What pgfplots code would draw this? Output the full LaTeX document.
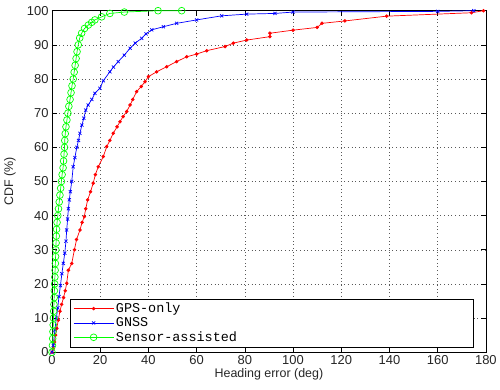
\documentclass[border=0pt]{standalone}
\usepackage{fontspec}
\setmainfont{Liberation Sans}
\newfontfamily\monofont{Liberation Mono}
\usepackage{pgfplots}
\pgfplotsset{compat=1.18}
\begin{document}
\begin{tikzpicture}
\begin{axis}[
  scale only axis,
  width=434bp, height=341.6bp,
  xmin=0, xmax=180, ymin=0, ymax=100,
  xtick={0,20,...,180}, ytick={0,10,...,100},
  tick align=inside, major tick length=5bp,
  grid=major,
  major grid style={black!65, line width=0.5bp, dash pattern=on 0.7bp off 3bp},
  axis line style={line width=0.6bp},
  every tick/.style={black, line width=0.6bp},
  /pgf/number format/assume math mode=true,
  tick label style={font=\fontsize{13}{15}\selectfont, text=black!85},
  label style={font=\fontsize{12.5}{15}\selectfont, text=black!85},
  xlabel={Heading error (deg)},
  ylabel={CDF (\%)},
  xlabel style={at={(axis description cs:0.5,-0.066)}, anchor=center},
  ylabel style={at={(axis description cs:-0.097,0.5)}, anchor=center},
  legend cell align=left,
  legend style={at={(rel axis cs:0.0415,0.0147)}, anchor=south west,
    font=\fontsize{13.5}{16}\monofont, draw=black, line width=0.6bp,
    inner xsep=3bp, inner ysep=2bp, row sep=-0.5bp,
    nodes={inner xsep=2bp}},
  legend image code/.code={\draw[mark repeat=2,mark phase=2] plot coordinates {(0cm,0cm) (0.705cm,0cm) (1.41cm,0cm)};},
  clip=false,
]
\addplot[red, line width=0.7bp, mark=*, mark size=1.4pt] coordinates {
(0,0) (0.5,1) (1,3) (1.5,5) (2,7) (2.6,9.4) (3.3,12) (4,14) (4.8,16) (5.5,18)
(6.1,20.2) (6.8,24) (8.2,26) (9.3,30) (10.2,33) (11.6,35.8) (12.5,38) (13.4,39.7)
(14,42) (14.8,44.6) (16,47) (17.1,49.5) (18,52) (19.2,54.3) (21.3,57.3) (22.7,60.2)
(24,62) (25.4,64.1) (27,66) (28.2,67.5) (29.5,69) (31,70.5) (32.4,72.4) (33.5,74)
(35.1,76.3) (37,77.8) (38.6,79.2) (40,80.7) (43.4,82.1) (47.6,83.6) (51.7,85.1)
(55.9,86.5) (60,87.3) (64.2,88.3) (71.8,89.5) (75.2,90.5) (80.8,91.4) (90.4,92.4)
(90.4,93.4) (100,94.3) (110,95.1) (112,96.3) (121.5,97) (138.8,98.4) (174,99.4) (179,100)
};
\addlegendentry{\makebox[352bp][l]{GPS-only}}
\addplot[blue, line width=0.7bp, mark=x, mark size=2.2pt] coordinates {
(0,0) (0.5,2) (1.2,6.5) (1.8,10) (2.4,13) (2.9,16.3) (3.5,19.5) (4.1,23) (4.7,26)
(5.3,29) (5.8,32.5) (6.1,35.8) (6.5,39) (6.8,42) (7.2,44.6) (7.6,47) (8.2,50)
(8.8,54.3) (9.5,57) (10.3,60) (11,62) (11.6,64.1) (12.4,66.5) (13.2,68.5) (14,70.9)
(15,72.4) (16.5,74) (17.8,75.8) (19.9,77.3) (21.3,79.5) (24,82.1) (25.5,83.5)
(27.5,85.1) (30,87) (32.4,89) (34.5,90.5) (37.2,91.9) (39,93.2) (41.4,94.4)
(46.2,95.3) (51.7,96.3) (60,97.3) (70.4,98.5) (80.8,99) (92.5,99.2) (100,99.6)
(160,99.8) (175,100)
};
\addlegendentry{GNSS}
\addplot[green, line width=0.7bp, mark=o, mark size=3.4pt] coordinates {
(0,0) (0.2,2) (0.3,4) (0.4,6) (0.5,8) (0.6,10) (0.7,12) (0.8,14) (0.9,16) (1.0,18)
(1.1,20) (1.2,22) (1.3,24) (1.4,26) (1.5,28) (1.6,30) (1.7,32) (1.8,34) (1.9,36)
(2.1,38) (2.4,40) (2.7,42) (3.0,44) (3.3,46) (3.6,48) (3.9,50) (4.2,52) (4.6,54)
(4.8,56) (5.0,58) (5.2,60) (5.3,62) (5.5,64) (5.8,66) (6.2,68) (6.6,70) (7.0,72)
(7.5,74) (7.9,76) (8.3,78) (8.8,80) (9.2,82) (9.6,84) (10.0,86) (10.4,88) (10.9,90)
(11.5,92) (12.3,93.4) (13.5,94.8) (15.1,95.8) (16.5,96.6) (17.8,97.3) (20.6,98.2)
(24,99.2) (30,99.6) (44,100) (53.8,100)
};
\addlegendentry{Sensor-assisted}
\coordinate (bl) at (rel axis cs:0,0);
\coordinate (tr) at (rel axis cs:1,1);
\end{axis}
\path ([xshift=-52bp,yshift=-37.7bp]bl) rectangle ([xshift=14bp,yshift=10.7bp]tr);
\end{tikzpicture}
\end{document}
